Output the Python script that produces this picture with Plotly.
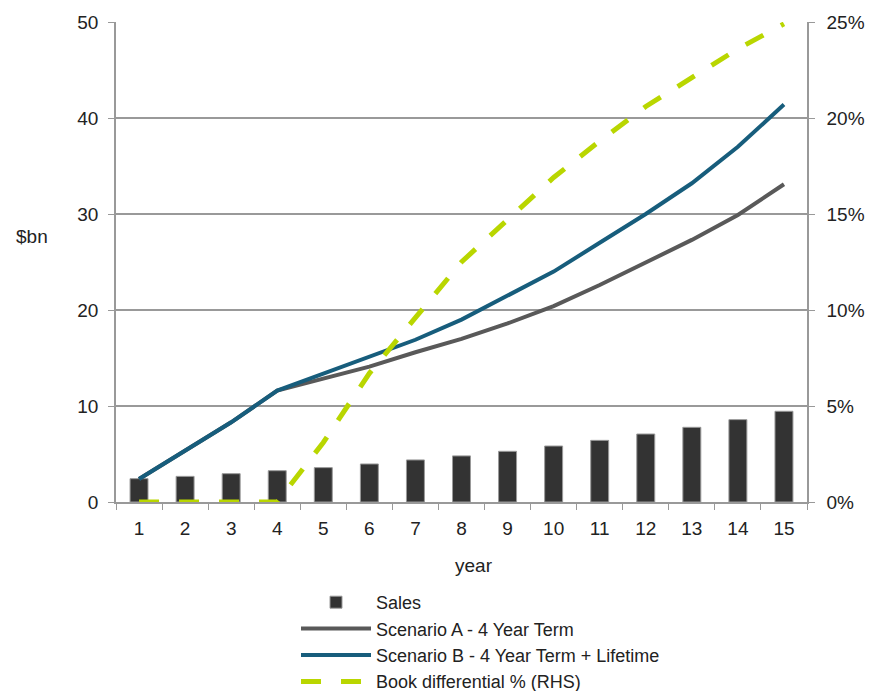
import plotly.graph_objects as go

years = [str(i) for i in range(1, 16)]
sales = [2.43, 2.67, 2.95, 3.26, 3.58, 3.96, 4.38, 4.80, 5.28, 5.83, 6.42, 7.08, 7.78, 8.58, 9.45]
scenario_a = [2.4, 5.4, 8.3, 11.6, 12.9, 14.1, 15.6, 17.0, 18.6, 20.4, 22.6, 25.0, 27.3, 29.9, 33.1]
scenario_b = [2.4, 5.4, 8.3, 11.6, 13.4, 15.1, 16.9, 19.0, 21.5, 24.0, 27.0, 30.0, 33.2, 37.0, 41.4]
book_diff = [0, 0, 0, 0, 3.1, 6.7, 9.6, 12.5, 14.7, 16.9, 18.8, 20.6, 22.1, 23.6, 24.9]

y_ticks = [0, 10, 20, 30, 40, 50]
y2_ticks = [0, 5, 10, 15, 20, 25]
y2_labels = ["0%", "5%", "10%", "15%", "20%", "25%"]

FONT = "Liberation Sans, Arial, sans-serif"
TXT = "#222222"
GRID = "#999999"

L, R, T, B = 116, 62, 22, 189
W, H = 869, 691
pw, ph = W - L - R, H - T - B


def px_x(x):
    return (x - L) / pw


def px_y(y):
    return (H - B - y) / ph


fig = go.Figure()
fig.add_trace(go.Bar(x=years, y=sales, name="Sales",
                     marker=dict(color="#333333", line=dict(color="#9a9a9a", width=1))))
fig.add_trace(go.Scatter(x=years, y=scenario_a, name="Scenario A - 4 Year Term", mode="lines",
                         line=dict(color="#595959", width=4)))
fig.add_trace(go.Scatter(x=years, y=scenario_b, name="Scenario B - 4 Year Term + Lifetime", mode="lines",
                         line=dict(color="#175d7c", width=4)))
fig.add_trace(go.Scatter(x=years, y=book_diff, name="Book differential % (RHS)", mode="lines",
                         yaxis="y2", line=dict(color="#b9d600", width=5, dash="20px,20px")))

fig.update_layout(
    width=W, height=H,
    margin=dict(l=L, r=R, t=T, b=B, autoexpand=False),
    paper_bgcolor="white", plot_bgcolor="white",
    font=dict(family=FONT, size=18, color=TXT),
    bargap=0.61,
    showlegend=True,
    legend=dict(x=px_x(296), y=px_y(584), xanchor="left", yanchor="top",
                font=dict(size=18, color=TXT), traceorder="normal",
                itemwidth=70, tracegroupgap=0, bgcolor="rgba(0,0,0,0)"),
    xaxis=dict(type="category", tickson="boundaries", ticks="outside", ticklen=6,
               tickcolor=GRID, showline=True, linecolor=GRID, linewidth=1.5,
               showgrid=False, ticklabelstandoff=8, tickfont=dict(size=19), automargin=False),
    yaxis=dict(range=[0, 50], tickvals=y_ticks, ticks="outside", ticklen=6,
               tickcolor=GRID, showline=True, linecolor=GRID, linewidth=1.5,
               showgrid=True, gridcolor=GRID, gridwidth=1.5, zeroline=False,
               ticklabelstandoff=6, tickfont=dict(size=19), automargin=False),
    yaxis2=dict(range=[0, 25], tickvals=y2_ticks, ticktext=y2_labels, overlaying="y", side="right",
                ticks="outside", ticklen=6, tickcolor=GRID, showline=True, linecolor=GRID,
                linewidth=1.5, showgrid=False, zeroline=False, ticklabelstandoff=8,
                tickfont=dict(size=19), automargin=False),
    annotations=[
        dict(text="$bn", x=px_x(32), y=px_y(236), xref="paper", yref="paper", showarrow=False,
             xanchor="center", yanchor="middle", font=dict(size=19, color=TXT)),
        dict(text="year", x=px_x(474), y=px_y(565), xref="paper", yref="paper", showarrow=False,
             xanchor="center", yanchor="middle", font=dict(size=19, color=TXT)),
    ],
)

fig.write_html("out.html", config=dict(displayModeBar=False))
